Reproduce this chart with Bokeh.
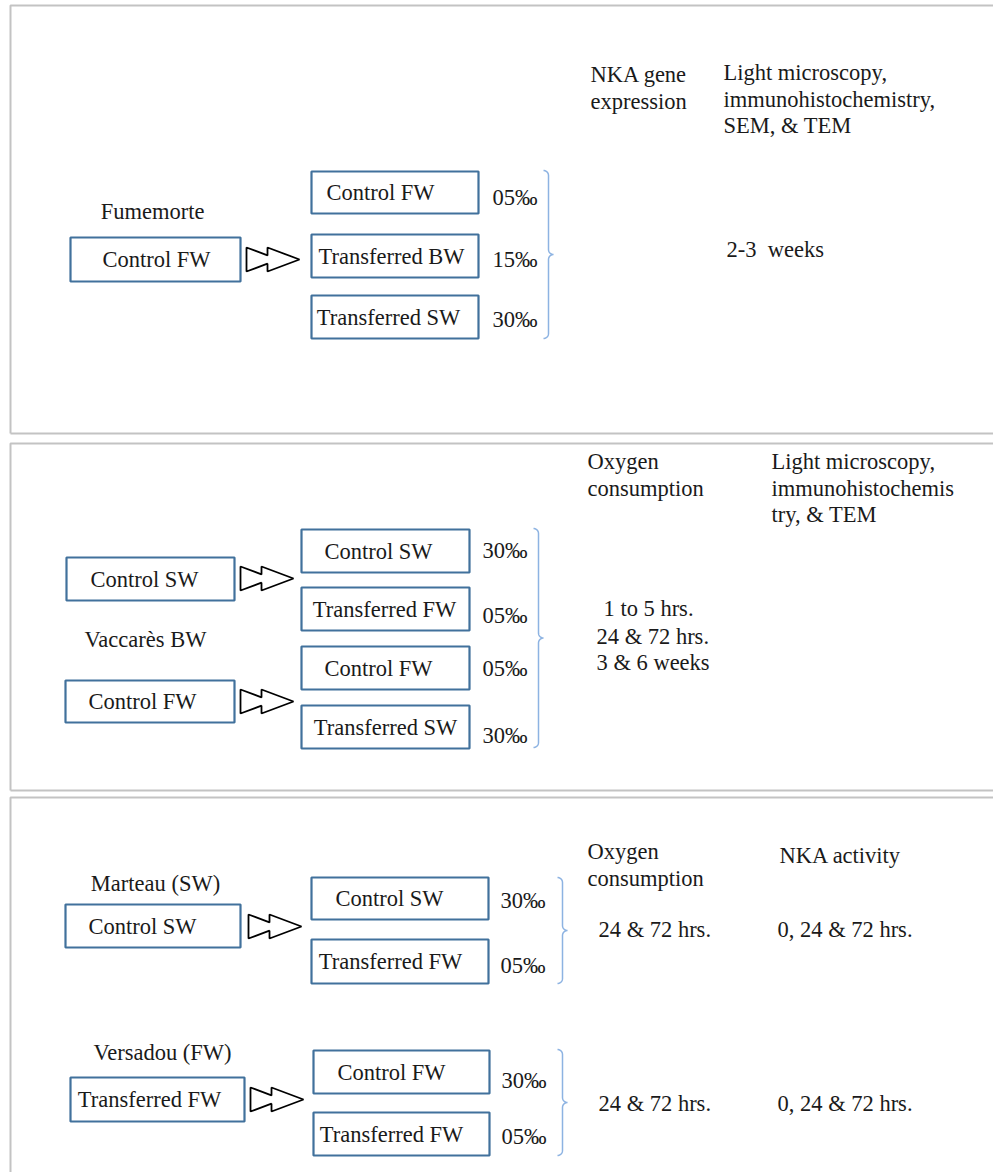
import numpy as np
from bokeh.plotting import figure
from bokeh.models import Range1d
from bokeh.core.properties import value
from bokeh.embed import file_html
from bokeh.resources import INLINE

# ---------------- content (texts) ----------------
sites = ["Fumemorte", "Vaccarès BW", "Marteau (SW)", "Versadou (FW)"]
source_labels = ["Control FW", "Control SW", "Control FW", "Control SW", "Transferred FW"]
target_labels = [
    ["Control FW", "Transferred BW", "Transferred SW"],
    ["Control SW", "Transferred FW"],
    ["Control FW", "Transferred SW"],
    ["Control SW", "Transferred FW"],
    ["Control FW", "Transferred FW"],
]
salinities = [
    ["05‰", "15‰", "30‰"],
    ["30‰", "05‰"],
    ["05‰", "30‰"],
    ["30‰", "05‰"],
    ["30‰", "05‰"],
]
headers = [
    ["NKA gene", "expression"],
    ["Light microscopy,", "immunohistochemistry,", "SEM, & TEM"],
    ["Oxygen", "consumption"],
    ["Light microscopy,", "immunohistochemis", "try, & TEM"],
    ["Oxygen", "consumption"],
    ["NKA activity"],
]
timepoints = ["2-3\u00a0 weeks", "1 to 5 hrs.", "24 & 72 hrs.", "3 & 6 weeks",
              "24 & 72 hrs.", "0, 24 & 72 hrs.", "24 & 72 hrs.", "0, 24 & 72 hrs."]

# ---------------- layout (page pixels) ----------------
panel_tops = [5, 443, 797]
panel_bottoms = [433, 790, None]
panel_left = 10

site_pos = [(152, 211), (145, 639), (155, 883), (162, 1052)]
source_boxes = [(70, 240, 237, 281), (66, 234, 557, 600), (65, 234, 680, 722),
                (65, 240, 904, 947), (70, 244, 1077, 1121)]
source_text_cx = [156, 144, 142, 142, 149]
arrow_pos = [(246, 259), (240, 578), (240, 701), (248, 926), (250, 1099)]
target_x = [(311, 478), (301, 469), (301, 469), (311, 488), (313, 489)]
target_y = [[(171, 213), (234, 277), (295, 338)],
            [(529, 572), (587, 630)],
            [(646, 689), (705, 748)],
            [(877, 919), (939, 983)],
            [(1050, 1093), (1112, 1155)]]
target_text_cx = [[380, 391, 388], [378, 384], [378, 385], [389, 390], [391, 391]]
sal_x = [492, 482, 482, 500, 501]
sal_y = [[197, 259, 319], [550, 615], [668, 735], [900, 965], [1080, 1136]]
brace_pos = [(543, 170, 338), (533, 528, 747), (557, 877, 983), (557, 1049, 1155)]
header_x = [590, 723, 587, 771, 587, 779]
header_y0 = [74, 72, 461, 461, 851, 855]
line_gap = 26.5
time_pos = [(726, 249), (603, 608), (596, 636), (596, 662),
            (598, 929), (777, 929), (598, 1103), (777, 1103)]

FONT = value("Liberation Serif")
FS = value("22.5px")
TXT = "#1a1a1a"
BOX = "#41719C"
BRACE = "#8DB3E2"
GRAY = "#c3c3c3"

W, H = 993, 1172
p = figure(width=W, height=H, output_backend="svg", toolbar_location=None,
           x_range=Range1d(0, W), y_range=Range1d(H, 0),
           x_axis_location=None, y_axis_location=None, min_border=0)
p.grid.visible = False
p.outline_line_color = None
p.background_fill_color = "white"

# panel frames
for t, b in zip(panel_tops, panel_bottoms):
    bb = b if b is not None else 1300
    p.line([1100, panel_left, panel_left], [t, t, bb], line_color=GRAY, line_width=2)
    if b is not None:
        p.line([panel_left, 1100], [b, b], line_color=GRAY, line_width=2)

# boxes
L, R, T, B, labs, cx, cy = [], [], [], [], [], [], []
for (x0, x1, y0, y1), lab, tx in zip(source_boxes, source_labels, source_text_cx):
    L.append(x0); R.append(x1); T.append(y0); B.append(y1)
    labs.append(lab); cx.append(tx); cy.append((y0 + y1) / 2)
for (x0, x1), ys, tl, txs in zip(target_x, target_y, target_labels, target_text_cx):
    for (y0, y1), lab, tx in zip(ys, tl, txs):
        L.append(x0); R.append(x1); T.append(y0); B.append(y1)
        labs.append(lab); cx.append(tx); cy.append((y0 + y1) / 2)
p.quad(left=L, right=R, top=T, bottom=B, fill_color="white",
       line_color=BOX, line_width=2.2)
p.text(x=cx, y=cy, text=labs, text_align="center", text_baseline="middle",
       text_font=FONT, text_font_size=FS, text_color=TXT)

# double arrows
def arrow_pts(x, y, w=32, d=21, h=12):
    yi = h * (1 - d / w)
    xs = [x, x + d, x + d, x + d + w, x + d, x + d, x]
    ys = [y - h, y - yi, y - h, y, y + h, y + yi, y + h]
    return xs, ys

axs, ays = zip(*[arrow_pts(x, y) for x, y in arrow_pos])
p.patches(list(axs), list(ays), fill_color="white", line_color="black", line_width=1.8)

# braces
def brace_pts(x0, y0, y1, r=5, n=12):
    ym = (y0 + y1) / 2
    t = np.linspace(0, 1, n) * np.pi / 2
    xs = list(x0 + r * np.sin(t)); ys = list(y0 + r - r * np.cos(t))
    xs += list(x0 + 2 * r - r * np.cos(t)); ys += list(ym - r + r * np.sin(t))
    xs += list(x0 + 2 * r - r * np.cos(t[::-1])); ys += list(ym + r - r * np.sin(t[::-1]))
    xs += list(x0 + r * np.sin(t[::-1])); ys += list(y1 - r + r * np.cos(t[::-1]))
    return xs, ys

bxs, bys = zip(*[brace_pts(x, a, b) for x, a, b in brace_pos])
p.multi_line(list(bxs), list(bys), line_color=BRACE, line_width=1.5)

# site names
p.text(x=[s[0] for s in site_pos], y=[s[1] for s in site_pos], text=sites,
       text_align="center", text_baseline="middle",
       text_font=FONT, text_font_size=FS, text_color=TXT)

# salinities
sx, sy, st = [], [], []
for x, ys, labs2 in zip(sal_x, sal_y, salinities):
    for y, lab in zip(ys, labs2):
        sx.append(x); sy.append(y); st.append(lab)
p.text(x=sx, y=sy, text=st, text_align="left", text_baseline="middle",
       text_font=FONT, text_font_size=FS, text_color=TXT)

# headers
hx, hy, ht = [], [], []
for x, y0, lines in zip(header_x, header_y0, headers):
    for i, ln in enumerate(lines):
        hx.append(x); hy.append(y0 + i * line_gap); ht.append(ln)
p.text(x=hx, y=hy, text=ht, text_align="left", text_baseline="middle",
       text_font=FONT, text_font_size=FS, text_color=TXT)

# timepoints
p.text(x=[t[0] for t in time_pos], y=[t[1] for t in time_pos], text=timepoints,
       text_align="left", text_baseline="middle",
       text_font=FONT, text_font_size=FS, text_color=TXT)

open("out.html", "w").write(file_html(p, INLINE))
